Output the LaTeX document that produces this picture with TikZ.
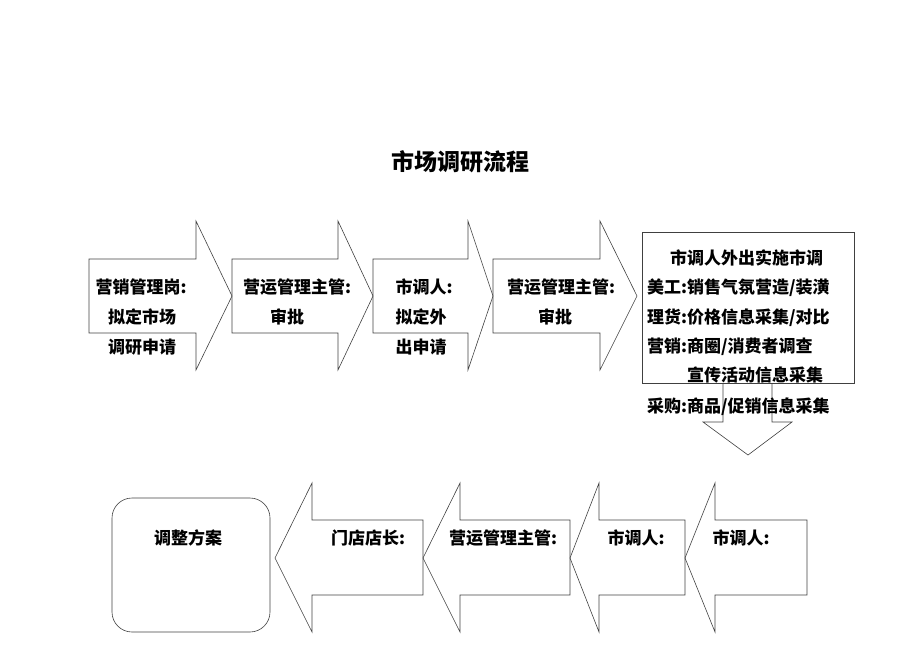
\documentclass[tikz,border=0pt]{standalone}
\usepackage{fontspec}
\newfontfamily\cjk{Noto Sans CJK SC}
\begin{document}
\begin{tikzpicture}[x=1pt, y=-1pt,
    outline/.style={draw=black!75, line width=0.6pt},
    lbl/.style={font=\cjk\bfseries\fontsize{17}{17}\selectfont, inner sep=0pt},
    ttl/.style={font=\cjk\bfseries\fontsize{23}{23}\selectfont, inner sep=0pt}]
    \useasboundingbox (0,0) rectangle (920,651);
    % Title
    \node[ttl] (title) at (460,162) {市场调研流程};
    % Top row, arrows to the right
    \foreach \l/\h/\t in {89/196/232, 232/338/373, 373/468/493, 493/600/637}
        \draw[outline] (\l,259) -- (\h,259) -- (\h,221) -- (\t,296) -- (\h,370) -- (\h,333) -- (\l,333) -- cycle;
    \node[lbl] (a1) at (141,287) {营销管理岗:};
    \node[lbl] (a1b) at (142,317) {拟定市场};
    \node[lbl] (a1c) at (142,347) {调研申请};
    \node[lbl] (a2) at (297,287) {营运管理主管:};
    \node[lbl] (a2b) at (287,317) {审批};
    \node[lbl] (a3) at (424,287) {市调人:};
    \node[lbl] (a3b) at (421,317) {拟定外};
    \node[lbl] (a3c) at (421,347) {出申请};
    \node[lbl] (a4) at (561,287) {营运管理主管:};
    \node[lbl] (a4b) at (555,317) {审批};
    % Survey box and arrow down
    \draw[outline] (642,232) rectangle (854,383);
    \draw[outline] (723,383) -- (723,422) -- (703,422) -- (748,455) -- (792,422) -- (772,422) -- (772,383);
    \node[lbl, anchor=west] (s1) at (670,258) {市调人外出实施市调};
    \node[lbl, anchor=west] (s2) at (647,288) {美工:销售气氛营造/装潢};
    \node[lbl, anchor=west] (s3) at (647,318) {理货:价格信息采集/对比};
    \node[lbl, anchor=west] (s4) at (647,347) {营销:商圈/消费者调查};
    \node[lbl, anchor=west] (s5) at (687,375) {宣传活动信息采集};
    \node[lbl, anchor=west] (s6) at (647,407) {采购:商品/促销信息采集};
    % Bottom row, arrows to the left
    \foreach \t/\h/\r in {275/312/423, 423/460/570, 570/599/685, 685/715/807}
        \draw[outline] (\r,520) -- (\h,520) -- (\h,483) -- (\t,558) -- (\h,632) -- (\h,595) -- (\r,595) -- cycle;
    \draw[outline, rounded corners=20pt] (112,498) rectangle (270,632);
    \node[lbl] (b0) at (188,538) {调整方案};
    \node[lbl] (b1) at (368,538) {门店店长:};
    \node[lbl] (b2) at (503,538) {营运管理主管:};
    \node[lbl] (b3) at (636,538) {市调人:};
    \node[lbl] (b4) at (741,538) {市调人:};
\end{tikzpicture}
\end{document}
